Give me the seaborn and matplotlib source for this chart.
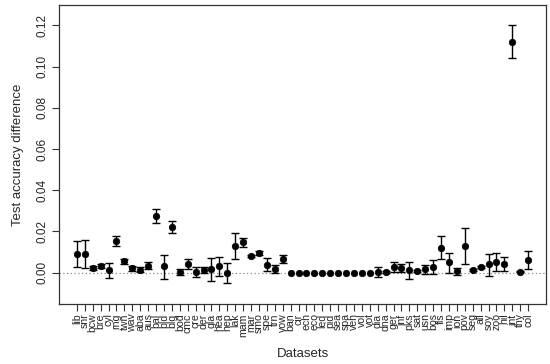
import matplotlib
matplotlib.use("Agg")
import matplotlib.pyplot as plt
import numpy as np
import pandas as pd
import seaborn as sns

datasets = ["lib", "snr", "bcw", "bre", "cyl", "rng", "twn", "wav", "aba", "aus",
            "bal", "bld", "blg", "bod", "cmc", "cre", "der", "gla", "hea", "hep",
            "lak", "mam", "mar", "smo", "spe", "trn", "vow", "ban", "cir", "ech",
            "eco", "led", "pid", "sea", "spa", "veh", "vol", "vot", "dia", "dna",
            "ger", "inf", "pks", "sat", "usn", "bos", "fls", "imp", "ion", "pov",
            "seg", "all", "soy", "zoo", "hil", "int", "thy", "col"]

diff_mean = [0.0091, 0.0091, 0.0024, 0.0032, 0.0011, 0.0155, 0.0055, 0.0021, 0.0015, 0.0034,
             0.0273, 0.0031, 0.0222, 0.0003, 0.0042, 0.0003, 0.0013, 0.0016, 0.0032, 0.0000,
             0.0129, 0.0149, 0.0081, 0.0094, 0.0039, 0.0018, 0.0066, 0.0, 0.0, 0.0,
             0.0, 0.0, 0.0, 0.0, 0.0, 0.0, 0.0, 0.0, 0.0003, 0.0003,
             0.0029, 0.0021, 0.0011, 0.0008, 0.0016, 0.0028, 0.0121, 0.0050, 0.0008, 0.0131,
             0.0011, 0.0026, 0.0041, 0.0053, 0.0042, 0.1120, 0.0005, 0.0062]

diff_low = [0.0026, 0.0021, 0.0015, 0.0021, -0.0027, 0.0131, 0.0044, 0.0010, 0.0003, 0.0018,
            0.0240, -0.0029, 0.0194, -0.0010, 0.0019, -0.0019, -0.0003, -0.0042, -0.0018, -0.0048,
            0.0066, 0.0125, 0.0076, 0.0084, 0.0007, -0.0003, 0.0045, 0.0, 0.0, 0.0,
            0.0, 0.0, 0.0, 0.0, 0.0, 0.0, 0.0, 0.0, -0.0022, -0.0004,
            0.0005, 0.0002, -0.0030, 0.0003, -0.0008, -0.0006, 0.0065, 0.0000, -0.0013, 0.0041,
            0.0006, 0.0021, -0.0015, 0.0007, 0.0007, 0.1043, 0.0001, 0.0016]

diff_high = [0.0153, 0.0159, 0.0032, 0.0044, 0.0049, 0.0176, 0.0066, 0.0032, 0.0026, 0.0053,
             0.0307, 0.0087, 0.0249, 0.0019, 0.0066, 0.0026, 0.0028, 0.0073, 0.0076, 0.0045,
             0.0191, 0.0167, 0.0086, 0.0104, 0.0071, 0.0037, 0.0086, 0.0, 0.0, 0.0,
             0.0, 0.0, 0.0, 0.0, 0.0, 0.0, 0.0, 0.0, 0.0029, 0.0010,
             0.0053, 0.0041, 0.0052, 0.0013, 0.0036, 0.0062, 0.0178, 0.0097, 0.0024, 0.0218,
             0.0016, 0.0031, 0.0091, 0.0094, 0.0075, 0.1203, 0.0009, 0.0104]

df = pd.DataFrame({"dataset": datasets, "mean": diff_mean,
                   "low": diff_low, "high": diff_high})

sns.set_style("ticks")
plt.rcParams["font.family"] = ["Liberation Sans", "DejaVu Sans"]

fig = plt.figure(figsize=(5.5, 3.64), dpi=100)
ax = fig.add_axes([0.107, 0.165, 0.886, 0.821])

ax.axhline(0, color="#888888", linestyle=(0, (1, 2)), linewidth=0.9, zorder=1)

pos = np.arange(len(df))
yerr = np.vstack([df["mean"] - df["low"], df["high"] - df["mean"]])
nonzero = (df["high"] - df["low"]).to_numpy() > 0
ax.errorbar(pos[nonzero], df["mean"][nonzero], yerr=yerr[:, nonzero], fmt="none",
            ecolor="black", elinewidth=1.0, capsize=2.8, capthick=1.0, zorder=2)
sns.scatterplot(data=df, x="dataset", y="mean", ax=ax, color="black", s=22,
                edgecolor="black", linewidth=0.5, zorder=3)

n = len(df)
ax.set_xlim(-0.04 * (n - 1), (n - 1) * 1.04)
ax.set_ylim(-0.0152, 0.1298)
ax.set_xticks(pos)
ax.set_xticklabels(datasets, rotation=90, fontsize=7.6)
ax.set_yticks([0.0, 0.02, 0.04, 0.06, 0.08, 0.10, 0.12])
ax.set_yticklabels(["0.00", "0.02", "0.04", "0.06", "0.08", "0.10", "0.12"],
                   rotation=90, va="center", fontsize=8.5)
ax.tick_params(axis="both", direction="out", length=5.3, width=0.8, color="#333333",
               pad=2.5)
ax.tick_params(axis="x", pad=1.5)
for s in ax.spines.values():
    s.set_visible(True)
    s.set_color("#333333")
    s.set_linewidth(0.9)

ax.set_xlabel("Datasets", fontsize=9.5, labelpad=8)
ax.set_ylabel("Test accuracy difference", fontsize=9.5, labelpad=9)

fig.savefig("out.png", dpi=100)
